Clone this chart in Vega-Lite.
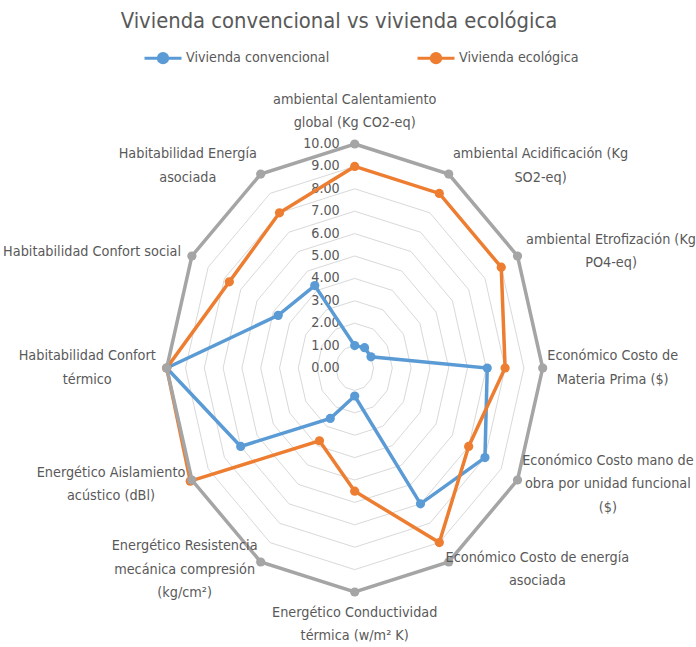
{
  "$schema": "https://vega.github.io/schema/vega-lite/v6.json",
  "width": 696,
  "height": 647,
  "padding": 0,
  "autosize": {"type": "none"},
  "background": "white",
  "title": {
    "text": "Vivienda convencional vs vivienda ecológica",
    "fontSize": 21.8,
    "font": "DejaVu Sans Condensed, sans-serif",
    "fontWeight": "normal",
    "color": "#595959",
    "offset": -33,
    "dx": -9
  },
  "config": {
    "view": {"stroke": null},
    "font": "DejaVu Sans Condensed, sans-serif"
  },
  "datasets": {
    "series": [
      {"serie": "Vivienda convencional", "idx": 0, "valor": 1.0},
      {"serie": "Vivienda convencional", "idx": 1, "valor": 1.05},
      {"serie": "Vivienda convencional", "idx": 2, "valor": 1.0},
      {"serie": "Vivienda convencional", "idx": 3, "valor": 7.05},
      {"serie": "Vivienda convencional", "idx": 4, "valor": 8.0},
      {"serie": "Vivienda convencional", "idx": 5, "valor": 7.0},
      {"serie": "Vivienda convencional", "idx": 6, "valor": 1.25},
      {"serie": "Vivienda convencional", "idx": 7, "valor": 2.6},
      {"serie": "Vivienda convencional", "idx": 8, "valor": 7.0},
      {"serie": "Vivienda convencional", "idx": 9, "valor": 10.0},
      {"serie": "Vivienda convencional", "idx": 10, "valor": 4.7},
      {"serie": "Vivienda convencional", "idx": 11, "valor": 4.25},
      {"serie": "Vivienda ecológica", "idx": 0, "valor": 9.0},
      {"serie": "Vivienda ecológica", "idx": 1, "valor": 9.0},
      {"serie": "Vivienda ecológica", "idx": 2, "valor": 9.0},
      {"serie": "Vivienda ecológica", "idx": 3, "valor": 8.0},
      {"serie": "Vivienda ecológica", "idx": 4, "valor": 7.0},
      {"serie": "Vivienda ecológica", "idx": 5, "valor": 9.0},
      {"serie": "Vivienda ecológica", "idx": 6, "valor": 5.5},
      {"serie": "Vivienda ecológica", "idx": 7, "valor": 3.75},
      {"serie": "Vivienda ecológica", "idx": 8, "valor": 10.1},
      {"serie": "Vivienda ecológica", "idx": 9, "valor": 10.0},
      {"serie": "Vivienda ecológica", "idx": 10, "valor": 7.7},
      {"serie": "Vivienda ecológica", "idx": 11, "valor": 8.0},
      {"serie": "Máximo", "idx": 0, "valor": 10},
      {"serie": "Máximo", "idx": 1, "valor": 10},
      {"serie": "Máximo", "idx": 2, "valor": 10},
      {"serie": "Máximo", "idx": 3, "valor": 10},
      {"serie": "Máximo", "idx": 4, "valor": 10},
      {"serie": "Máximo", "idx": 5, "valor": 10},
      {"serie": "Máximo", "idx": 6, "valor": 10},
      {"serie": "Máximo", "idx": 7, "valor": 10},
      {"serie": "Máximo", "idx": 8, "valor": 10},
      {"serie": "Máximo", "idx": 9, "valor": 10},
      {"serie": "Máximo", "idx": 10, "valor": 10},
      {"serie": "Máximo", "idx": 11, "valor": 10}
    ],
    "ejes": [
      {"idx": 0, "lineas": ["ambiental Calentamiento", "global (Kg CO2-eq)"]},
      {"idx": 1, "lineas": ["ambiental Acidificación (Kg", "SO2-eq)"]},
      {"idx": 2, "lineas": ["ambiental Etrofización (Kg", "PO4-eq)"]},
      {"idx": 3, "lineas": ["Económico Costo de", "Materia Prima ($)"]},
      {"idx": 4, "lineas": ["Económico Costo mano de", "obra por unidad funcional", "($)"]},
      {"idx": 5, "lineas": ["Económico Costo de energía", "asociada"]},
      {"idx": 6, "lineas": ["Energético Conductividad", "térmica (w/m² K)"]},
      {"idx": 7, "lineas": ["Energético Resistencia", "mecánica compresión", "(kg/cm²)"]},
      {"idx": 8, "lineas": ["Energético Aislamiento", "acústico (dBl)"]},
      {"idx": 9, "lineas": ["Habitabilidad Confort", "térmico"]},
      {"idx": 10, "lineas": ["Habitabilidad Confort social"]},
      {"idx": 11, "lineas": ["Habitabilidad Energía", "asociada"]}
    ],
    "grid": [
      {"nivel": 1, "idx": [0, 1, 2, 3, 4, 5, 6, 7, 8, 9, 10, 11]},
      {"nivel": 2, "idx": [0, 1, 2, 3, 4, 5, 6, 7, 8, 9, 10, 11]},
      {"nivel": 3, "idx": [0, 1, 2, 3, 4, 5, 6, 7, 8, 9, 10, 11]},
      {"nivel": 4, "idx": [0, 1, 2, 3, 4, 5, 6, 7, 8, 9, 10, 11]},
      {"nivel": 5, "idx": [0, 1, 2, 3, 4, 5, 6, 7, 8, 9, 10, 11]},
      {"nivel": 6, "idx": [0, 1, 2, 3, 4, 5, 6, 7, 8, 9, 10, 11]},
      {"nivel": 7, "idx": [0, 1, 2, 3, 4, 5, 6, 7, 8, 9, 10, 11]},
      {"nivel": 8, "idx": [0, 1, 2, 3, 4, 5, 6, 7, 8, 9, 10, 11]},
      {"nivel": 9, "idx": [0, 1, 2, 3, 4, 5, 6, 7, 8, 9, 10, 11]},
      {"nivel": 10, "idx": [0, 1, 2, 3, 4, 5, 6, 7, 8, 9, 10, 11]}
    ],
    "ticks": [
      {"valor": 0}, {"valor": 1}, {"valor": 2}, {"valor": 3}, {"valor": 4}, {"valor": 5},
      {"valor": 6}, {"valor": 7}, {"valor": 8}, {"valor": 9}, {"valor": 10}
    ]
  },
  "encoding": {
    "x": {"field": "x", "type": "quantitative", "scale": {"domain": [-18.867, 18.154], "nice": false, "zero": false}, "axis": null},
    "y": {"field": "y", "type": "quantitative", "scale": {"domain": [-12.455, 16.429], "nice": false, "zero": false}, "axis": null}
  },
  "layer": [
    {
      "data": {"name": "grid"},
      "transform": [
        {"flatten": ["idx"]},
        {"calculate": "datum.nivel*sin(datum.idx*PI/6)", "as": "x"},
        {"calculate": "datum.nivel*cos(datum.idx*PI/6)", "as": "y"}
      ],
      "mark": {"type": "line", "interpolate": "linear-closed", "stroke": "#D9D9D9", "strokeWidth": 1},
      "encoding": {"detail": {"field": "nivel"}, "order": {"field": "idx", "type": "quantitative"}}
    },
    {
      "data": {"name": "ticks"},
      "transform": [
        {"calculate": "0", "as": "x"},
        {"calculate": "datum.valor", "as": "y"}
      ],
      "mark": {"type": "text", "align": "right", "baseline": "middle", "dx": -15, "fontSize": 14.2, "color": "#595959"},
      "encoding": {"text": {"field": "valor", "type": "quantitative", "format": ".2f"}}
    },
    {
      "data": {"name": "series"},
      "transform": [
        {"filter": "datum.serie !== 'Máximo'"},
        {"calculate": "datum.valor*sin(datum.idx*PI/6)", "as": "x"},
        {"calculate": "datum.valor*cos(datum.idx*PI/6)", "as": "y"}
      ],
      "layer": [
        {
          "mark": {"type": "line", "interpolate": "linear-closed", "strokeWidth": 3.5},
          "encoding": {
            "order": {"field": "idx", "type": "quantitative"},
            "color": {
              "field": "serie", "type": "nominal",
              "scale": {"domain": ["Vivienda convencional", "Vivienda ecológica"], "range": ["#5B9BD5", "#ED7D31"]},
              "legend": {
                "title": null,
                "orient": "none",
                "legendX": 143,
                "legendY": 38,
                "direction": "horizontal",
                "symbolType": "M-1,0L1,0M-0.25,0A0.25,0.25,0,1,1,0.25,0A0.25,0.25,0,1,1,-0.25,0Z",
                "symbolSize": 1369,
                "symbolStrokeWidth": 3,
                "labelFontSize": 14.2,
                "labelColor": "#595959",
                "labelOffset": 3,
                "labelLimit": 400,
                "columnPadding": 81,
                "encode": {"symbols": {"update": {"fill": {"scale": "color", "field": "value"}, "stroke": {"scale": "color", "field": "value"}}}}
              }
            }
          }
        },
        {
          "mark": {"type": "point", "filled": true, "size": 85, "opacity": 1},
          "encoding": {"color": {"field": "serie", "type": "nominal"}}
        }
      ]
    },
    {
      "data": {"name": "series"},
      "transform": [
        {"filter": "datum.serie === 'Máximo'"},
        {"calculate": "datum.valor*sin(datum.idx*PI/6)", "as": "x"},
        {"calculate": "datum.valor*cos(datum.idx*PI/6)", "as": "y"}
      ],
      "layer": [
        {
          "mark": {"type": "line", "interpolate": "linear-closed", "strokeWidth": 3.5, "color": "#A5A5A5"},
          "encoding": {"order": {"field": "idx", "type": "quantitative"}}
        },
        {
          "mark": {"type": "point", "filled": true, "size": 85, "opacity": 1, "color": "#A5A5A5"}
        }
      ]
    },
    {
      "data": {"name": "ejes"},
      "transform": [
        {"calculate": "sin(datum.idx*PI/6)", "as": "s"},
        {"calculate": "cos(datum.idx*PI/6)", "as": "c"},
        {"calculate": "length(datum.lineas)", "as": "n"},
        {"calculate": "max(length(datum.lineas[0]), datum.n > 1 ? length(datum.lineas[1]) : 0, datum.n > 2 ? length(datum.lineas[2]) : 0)", "as": "w"},
        {"calculate": "10.7*datum.s + (abs(datum.s) < 0.01 ? 0 : (datum.s > 0 ? 1 : -1) * datum.w * 0.168)", "as": "x"},
        {"calculate": "10.4*datum.c + (abs(datum.c) > 0.99 ? (datum.c > 0 ? 1 : -1) * datum.n * 0.525 : 0) + (datum.n - 1) * 0.525", "as": "y"}
      ],
      "mark": {"type": "text", "align": "center", "baseline": "middle", "fontSize": 14.3, "lineHeight": 23.5, "color": "#595959"},
      "encoding": {"text": {"field": "lineas"}}
    }
  ]
}
